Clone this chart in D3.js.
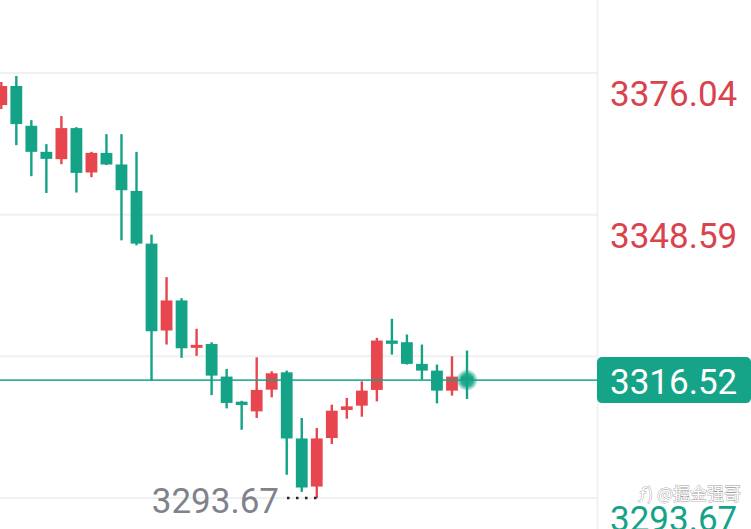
<!DOCTYPE html>
<html>
<head>
<meta charset="utf-8">
<script src="https://cdn.jsdelivr.net/npm/d3@7/dist/d3.min.js"></script>
<style>
  html, body { margin: 0; padding: 0; background: #fff; }
  svg { display: block; }
</style>
</head>
<body>
<script>
// ---- data ----
const opens  = [3369.83,3373.52,3365.81,3360.76,3359.34,3365.36,3356.76,3360.56,3358.31,3353.18,3342.97,3326.13,3331.96,3322.77,3323.51,3317.20,3312.34,3310.46,3314.67,3318.03,3305.21,3295.89,3305.29,3310.73,3311.57,3314.61,3324.19,3323.86,3319.66,3318.36,3314.48,3317.20];
const highs  = [3374.29,3375.46,3366.91,3362.25,3367.69,3365.55,3360.76,3364.19,3364.19,3360.76,3344.72,3336.48,3332.40,3326.46,3323.86,3318.69,3312.50,3320.94,3318.23,3318.36,3309.18,3307.23,3311.76,3313.06,3316.28,3324.71,3328.40,3325.35,3323.41,3319.53,3321.14,3322.25];
const lows   = [3369.05,3362.06,3356.04,3352.79,3358.37,3352.87,3355.84,3358.20,3343.61,3342.64,3316.42,3323.41,3320.83,3321.22,3313.61,3311.04,3306.90,3309.18,3313.18,3298.17,3294.86,3293.67,3304.13,3309.04,3309.43,3312.40,3321.47,3319.53,3316.61,3312.01,3313.51,3312.87];
const closes = [3373.52,3366.14,3360.76,3359.40,3365.36,3356.68,3360.56,3358.31,3353.32,3342.97,3325.99,3331.96,3322.69,3323.35,3317.39,3312.09,3311.70,3314.61,3317.84,3305.21,3295.70,3305.21,3310.59,3311.43,3314.48,3324.19,3323.55,3319.66,3318.36,3314.48,3317.20,3316.52];
const priceTicks = [3376.04, 3348.59, 3321.13, 3293.67];
const currentPrice = 3316.52;
const minPrice = 3293.67;
const watermark = "@掘金强哥";

// ---- layout ----
const W = 751, H = 529;
const plotRight = 597;
const UP = "#e8464f", DOWN = "#14a387", LABEL_RED = "#d9434d", GRID = "#f0f0f0";

const svg = d3.select("body").append("svg").attr("width", W).attr("height", H);

const y = d3.scaleLinear().domain([minPrice, priceTicks[0]]).range([498, 73]);
const n = opens.length;
const x = d3.scaleLinear().domain([0, n - 1]).range([1.3, 467]);
const bodyW = 11.8, wickW = 2.4;

// vertical separator
svg.append("line").attr("x1", plotRight + 0.5).attr("x2", plotRight + 0.5)
  .attr("y1", 0).attr("y2", H).attr("stroke", "#eeeeee").attr("stroke-width", 1.5);

// gridlines
svg.append("g").selectAll("line").data(priceTicks).join("line")
  .attr("x1", 0).attr("x2", plotRight)
  .attr("y1", d => y(d)).attr("y2", d => y(d))
  .attr("stroke", GRID).attr("stroke-width", 2);

// candles
const candles = d3.range(n).map(i => ({ i, o: opens[i], h: highs[i], l: lows[i], c: closes[i] }));
const g = svg.append("g");
const cg = g.selectAll("g").data(candles).join("g");
cg.append("rect")
  .attr("x", d => x(d.i) - wickW / 2).attr("width", wickW)
  .attr("y", d => y(d.h)).attr("height", d => Math.max(1, y(d.l) - y(d.h)))
  .attr("fill", d => d.c >= d.o ? UP : DOWN);
cg.append("rect")
  .attr("x", d => x(d.i) - bodyW / 2).attr("width", bodyW)
  .attr("y", d => { const t = y(Math.max(d.o, d.c)), b = y(Math.min(d.o, d.c)); return b - t < 3 ? (t + b) / 2 - 1.5 : t; })
  .attr("height", d => Math.max(3, y(Math.min(d.o, d.c)) - y(Math.max(d.o, d.c))))
  .attr("fill", d => d.c >= d.o ? UP : DOWN);

// current price line
svg.append("line").attr("x1", 0).attr("x2", plotRight + 2)
  .attr("y1", y(currentPrice)).attr("y2", y(currentPrice))
  .attr("stroke", DOWN).attr("stroke-width", 1.6).attr("opacity", 0.85);

// glow dot at last candle
const defs = svg.append("defs");
const rg = defs.append("radialGradient").attr("id", "glow");
rg.append("stop").attr("offset", "0%").attr("stop-color", DOWN).attr("stop-opacity", 1);
rg.append("stop").attr("offset", "55%").attr("stop-color", DOWN).attr("stop-opacity", 0.9);
rg.append("stop").attr("offset", "100%").attr("stop-color", DOWN).attr("stop-opacity", 0);
svg.append("circle").attr("cx", x(n - 1)).attr("cy", y(currentPrice)).attr("r", 11)
  .attr("fill", "url(#glow)");

// right axis labels (below each gridline), skipping the one hidden by the price badge
const badgeTop = y(currentPrice) - 23, badgeBottom = y(currentPrice) + 23;
const visibleTicks = priceTicks.filter(d => {
  const base = y(d) + 33;
  return !(base > badgeTop && base - 26 < badgeBottom);
});
svg.append("g").selectAll("text").data(visibleTicks).join("text")
  .attr("x", 610).attr("y", d => y(d) + 33)
  .attr("font-family", "Roboto, sans-serif").attr("font-size", 35)
  .attr("fill", d => d > currentPrice ? LABEL_RED : DOWN)
  .text(d => d.toFixed(2));

// watermark
svg.append("text").attr("x", 741).attr("y", 500).attr("text-anchor", "end")
  .attr("font-family", "'Noto Sans CJK SC', sans-serif").attr("font-size", 17)
  .attr("fill", "#ffffff").attr("stroke", "#9a9a9a").attr("stroke-width", 0.8)
  .attr("paint-order", "stroke")
  .text("ƒ) " + watermark);

// current price badge
svg.append("rect").attr("x", 597).attr("y", badgeTop).attr("width", 154).attr("height", 46)
  .attr("rx", 5).attr("fill", "#15a488");
svg.append("text").attr("x", 610).attr("y", y(currentPrice) + 13.5)
  .attr("font-family", "Roboto, sans-serif").attr("font-size", 35).attr("fill", "#ffffff")
  .text(currentPrice.toFixed(2));

// min price marker
const minIdx = lows.indexOf(d3.min(lows));
svg.append("line").attr("x1", 287).attr("x2", x(minIdx))
  .attr("y1", y(minPrice)).attr("y2", y(minPrice))
  .attr("stroke", "#222").attr("stroke-width", 2.5).attr("stroke-dasharray", "2.5,6.5");
svg.append("text").attr("x", 279).attr("y", 513).attr("text-anchor", "end")
  .attr("font-family", "Roboto, sans-serif").attr("font-size", 35).attr("fill", "#80828c")
  .text(minPrice.toFixed(2));
</script>
</body>
</html>
